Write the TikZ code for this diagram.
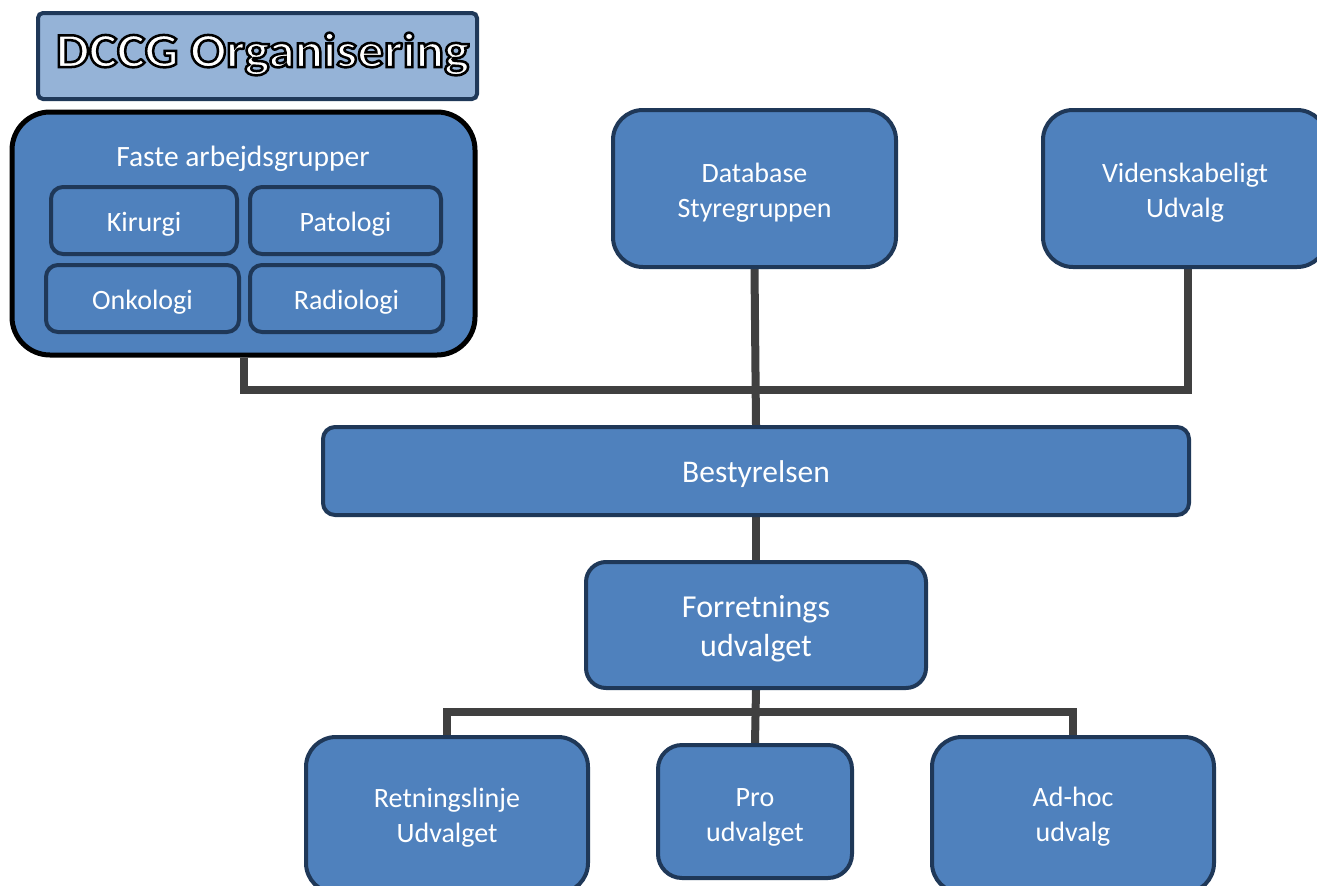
\documentclass[tikz,border=0pt]{standalone}
\usepackage{fontspec}
\setmainfont{Carlito}
\newfontfamily\titlefnt[FakeStretch=1.08]{Carlito}
\newcommand\tstr[1]{\rule{0pt}{#1pt}}
\usetikzlibrary{calc,backgrounds}
\begin{document}
\definecolor{boxfill}{HTML}{4F81BD}
\definecolor{boxline}{HTML}{1F3858}
\definecolor{titlefill}{HTML}{95B3D7}
\definecolor{conncol}{HTML}{404040}
\begin{tikzpicture}[x=1pt,y=-1pt,
  box/.style={draw=boxline, line width=4pt, fill=boxfill, text=white, align=center,
    inner sep=0pt, font=\fontsize{28}{35}\selectfont},
  conn/.style={draw=conncol, line width=8pt, line join=miter},
  titlefont/.style={font=\titlefnt\bfseries\fontsize{49}{60}\selectfont}]
\useasboundingbox (0,0) rectangle (1317,886);
\clip (0,0) rectangle (1317,886);
\coordinate (bus) at (0,390);
\coordinate (bus2) at (0,712);
% nodes
\node[box, draw=black, line width=5pt, rounded corners=38pt, minimum width=463pt, minimum height=243pt] (faste) at (243.5,233.5) {};
\node[text=white, font=\fontsize{29.5}{35}\selectfont] (fastetxt) at (243,159) {Faste arbejdsgrupper};
\node[box, rounded corners=12pt, minimum width=186pt, minimum height=67pt] (kir) at (144,220.5) {\tstr{27}Kirurgi};
\node[box, rounded corners=12pt, minimum width=191pt, minimum height=67pt] (pat) at (345.5,220.5) {\tstr{27}Patologi};
\node[box, rounded corners=12pt, minimum width=193pt, minimum height=67pt] (onk) at (142.5,298.5) {\tstr{27}Onkologi};
\node[box, rounded corners=12pt, minimum width=193pt, minimum height=67pt] (rad) at (346.5,298.5) {\tstr{27}Radiologi};
\node[box, rounded corners=30pt, minimum width=283pt, minimum height=157pt] (db) at (754.5,188.5) {\tstr{28}Database\\Styregruppen};
\node[box, rounded corners=30pt, minimum width=284pt, minimum height=157pt] (viden) at (1185,188.5) {\tstr{28}Videnskabeligt\\Udvalg};
\node[box, rounded corners=12pt, minimum width=866pt, minimum height=88pt, font=\fontsize{31.5}{38}\selectfont] (best) at (756,471) {\tstr{29}Bestyrelsen};
\node[box, rounded corners=20pt, minimum width=340pt, minimum height=126pt, font=\fontsize{32}{39}\selectfont] (forr) at (756,625) {\tstr{29}Forretnings\\udvalget};
\node[box, rounded corners=30pt, minimum width=282pt, minimum height=156pt] (retn) at (447,815) {\tstr{24}Retningslinje\\Udvalget};
\node[box, rounded corners=24pt, minimum width=194pt, minimum height=133pt] (pro) at (755,811.5) {\tstr{30}Pro\\udvalget};
\node[box, rounded corners=30pt, minimum width=282pt, minimum height=156pt] (adhoc) at (1073,815) {\tstr{23}Ad-hoc\\udvalg};
% title
\node[draw=boxline, line width=4pt, fill=titlefill, rounded corners=5pt, minimum width=439pt, minimum height=86pt, inner sep=0pt] (title) at (257.5,56) {};
\node[text=white, titlefont] (titletxt) at (262.5,54)
  {\special{pdf:code 2 Tr 2.5 w 0 0 0 RG}DCCG Organisering\special{pdf:code 0 Tr}};
% connectors behind the boxes
\begin{scope}[on background layer]
\fill[white] (0,0) rectangle (1317,886);
\draw[conn] (faste.south) -- (faste.south |- bus) -| ([xshift=3pt]viden.south);
\draw[conn] (db.south) -- (best.north);
\draw[conn] (best.south) -- (forr.north);
\draw[conn] (forr.south) -- (pro.north);
\draw[conn] (retn.north) -- (retn.north |- bus2) -| (adhoc.north);
\end{scope}
\end{tikzpicture}
\end{document}
